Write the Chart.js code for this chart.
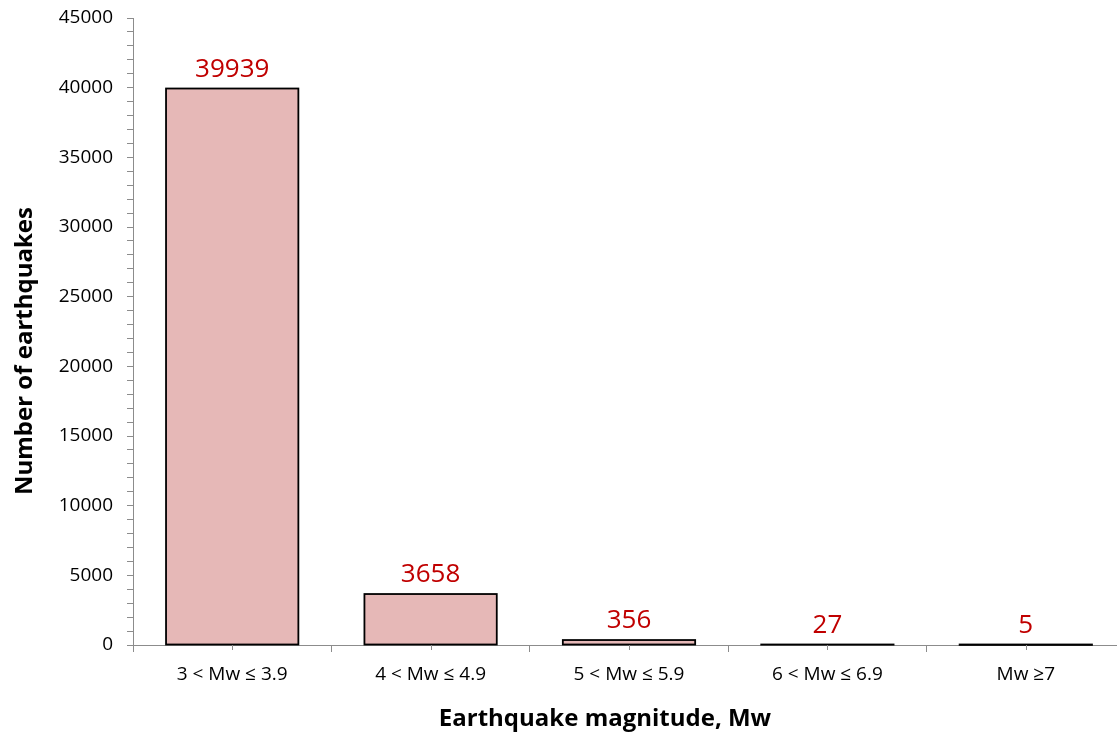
<!DOCTYPE html>
<html>
<head>
<meta charset="utf-8">
<script src="https://cdn.jsdelivr.net/npm/chart.js@4/dist/chart.umd.min.js"></script>
<style>
  html, body { margin: 0; padding: 0; background: #ffffff; overflow: hidden; }
  #wrap { width: 1117px; height: 733px; overflow: hidden; position: relative; }
  canvas { display: block; }
</style>
</head>
<body>
<div id="wrap"><canvas id="chart" width="1160" height="733"></canvas></div>
<script>
// Earthquake counts by magnitude class
const categories = ['3 < Mw \u2264 3.9', '4 < Mw \u2264 4.9', '5 < Mw \u2264 5.9', '6 < Mw \u2264 6.9', 'Mw \u22657'];
const counts = [39939, 3658, 356, 27, 5];
const yMajorTicks = [0, 5000, 10000, 15000, 20000, 25000, 30000, 35000, 40000, 45000];
const yTitle = 'Number of earthquakes';
const xTitle = 'Earthquake magnitude, Mw';

const FONT = '"Open Sans", "DejaVu Sans", sans-serif';
const AXIS_GREY = '#8c8c8c';

// Black outline round every bar, kept visible even for the very short ones
const barOutlines = {
  id: 'barOutlines',
  afterDatasetsDraw(chart) {
    const ctx = chart.ctx;
    const meta = chart.getDatasetMeta(0);
    ctx.save();
    ctx.strokeStyle = '#000000';
    ctx.lineWidth = 1.8;
    meta.data.forEach(bar => {
      const p = bar.getProps(['x', 'y', 'base', 'width'], true);
      const left = p.x - p.width / 2;
      const top = Math.min(p.y, p.base);
      const h = Math.abs(p.base - p.y);
      ctx.strokeRect(left, top, p.width, h);
    });
    ctx.restore();
  }
};

// Value labels above each bar, in dark red
const valueLabels = {
  id: 'valueLabels',
  afterDatasetsDraw(chart) {
    const ctx = chart.ctx;
    const meta = chart.getDatasetMeta(0);
    ctx.save();
    ctx.fillStyle = '#c00000';
    ctx.font = '26px ' + FONT;
    ctx.textAlign = 'center';
    ctx.textBaseline = 'alphabetic';
    meta.data.forEach((bar, i) => {
      ctx.fillText(String(counts[i]), bar.x, bar.y - 12);
    });
    ctx.restore();
  }
};

// Small tick marks under the centre of each category
const centreTicks = {
  id: 'centreTicks',
  afterDraw(chart) {
    const ctx = chart.ctx;
    const xs = chart.scales.x;
    const yBase = chart.chartArea.bottom;
    ctx.save();
    ctx.strokeStyle = AXIS_GREY;
    ctx.lineWidth = 1;
    categories.forEach((c, i) => {
      const px = Math.round(xs.getPixelForValue(i)) + 0.5;
      ctx.beginPath();
      ctx.moveTo(px, yBase);
      ctx.lineTo(px, yBase + 5);
      ctx.stroke();
    });
    ctx.restore();
  }
};

// Bold axis titles
const axisTitles = {
  id: 'axisTitles',
  afterDraw(chart) {
    const ctx = chart.ctx;
    ctx.save();
    ctx.fillStyle = '#000000';
    ctx.font = 'bold 24px ' + FONT;
    ctx.textAlign = 'center';
    ctx.textBaseline = 'middle';
    ctx.fillText(xTitle, 605, 719);
    ctx.translate(25, 351);
    ctx.rotate(-Math.PI / 2);
    ctx.fillText(yTitle, 0, 0);
    ctx.restore();
  }
};

new Chart(document.getElementById('chart'), {
  type: 'bar',
  data: {
    labels: categories,
    datasets: [{
      data: counts,
      backgroundColor: '#e6b8b7',
      borderWidth: 0,
      categoryPercentage: 1.0,
      barPercentage: 0.667
    }]
  },
  options: {
    responsive: false,
    animation: false,
    layout: { padding: { left: 0, top: 18, right: 35, bottom: 0 } },
    plugins: {
      legend: { display: false },
      tooltip: { enabled: false }
    },
    scales: {
      x: {
        grid: {
          display: true,
          offset: true,
          drawOnChartArea: false,
          drawTicks: true,
          tickLength: 7,
          color: AXIS_GREY
        },
        border: { display: true, color: AXIS_GREY, width: 1 },
        ticks: {
          color: '#000000',
          font: { family: FONT, size: 19 },
          padding: 11,
          maxRotation: 0,
          autoSkip: false
        },
        afterFit(scale) { scale.height = 88; }
      },
      y: {
        min: 0,
        max: 45000,
        grid: {
          display: true,
          drawOnChartArea: false,
          drawTicks: true,
          tickLength: 6,
          color: AXIS_GREY
        },
        border: { display: true, color: AXIS_GREY, width: 1 },
        ticks: {
          stepSize: 1000,
          autoSkip: false,
          color: '#000000',
          font: { family: FONT, size: 19 },
          padding: 14,
          callback(v) { return yMajorTicks.includes(v) ? String(v) : ''; }
        },
        afterFit(scale) {
          scale.width = 133;
          scale.paddingTop = 0;
          scale.paddingBottom = 0;
        }
      }
    }
  },
  plugins: [barOutlines, valueLabels, centreTicks, axisTitles]
});
</script>
</body>
</html>
